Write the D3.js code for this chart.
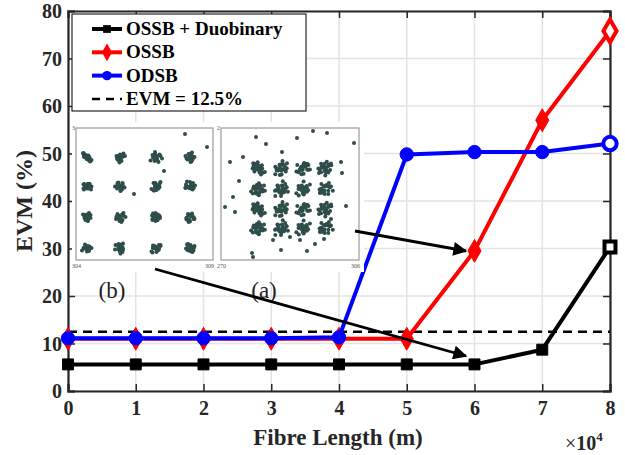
<!DOCTYPE html>
<html>
<head>
<meta charset="UTF-8">
<script src="https://d3js.org/d3.v7.min.js"></script>
<style>
  body { margin: 0; background: #fff; }
  svg text { font-family: "Liberation Serif", "Times New Roman", Times, serif; }
  .tick-lbl { font-size: 20px; font-weight: bold; fill: #262626; }
  .grid line { stroke: #e3e3e3; stroke-width: 1.5; }
</style>
</head>
<body>
<svg id="chart" width="625" height="455"></svg>
<script>
// data
var lengths = [0, 1, 2, 3, 4, 5, 6, 7, 8];
var duoEvm  = [5.6, 5.6, 5.6, 5.6, 5.6, 5.6, 5.6, 8.7, 30.3];
var ossbEvm = [11.0, 11.0, 11.0, 11.0, 11.0, 11.0, 29.5, 57.0, 75.8];
var odsbEvm = [11.1, 11.1, 11.1, 11.1, 11.3, 49.8, 50.3, 50.3, 52.1];
var threshold = 12.5;
var xTicks = [0, 1, 2, 3, 4, 5, 6, 7, 8];
var yTicks = [0, 10, 20, 30, 40, 50, 60, 70, 80];
var legendNames = ["OSSB + Duobinary", "OSSB", "ODSB", "EVM = 12.5%"];

// constellation insets (pixel-space decoration)
var gridB = { xs: [87, 120, 156, 190], ys: [157, 186, 217, 248] };
var gridA = { xs: [258, 281, 303, 325], ys: [168, 189, 209, 228] };
var tightOffs = [[0,0],[2,1],[-2,1],[1,-2],[-1,-2],[3,-1],[-3,0],[0,3],[2,3],[-2,-3],[4,1],[-4,2],[1,4],[3,-3],[-1,1],[1,1],[-3,-2],[2,-1],[0,-1],[-2,3]];
var looseOffs = [[0,0],[3,2],[-3,1],[2,-3],[-2,-4],[5,-1],[-5,0],[0,5],[4,4],[-4,-4],[7,2],[-7,3],[1,7],[6,-5],[-6,6],[2,-7],[-1,2],[3,-1],[-2,-1],[1,-4],[-4,3],[4,-2],[0,2],[-1,-2]];
var outliersA = [[256,137],[266,144],[327,133],[354,143],[230,162],[243,157],[341,162],[342,173],[239,181],[233,197],[225,207],[235,212],[346,206],[331,219],[290,237],[273,240],[300,240],[281,250],[307,251],[324,239],[315,244],[252,253],[253,257],[313,131],[297,138],[282,152]];
var outliersB = [[185,134],[207,147],[164,171],[134,194],[222,109]];

var svg = d3.select("#chart");
var m = { left: 68, right: 15, top: 11, bottom: 64 };

var x = d3.scaleLinear().domain([0, 8]).range([m.left, 610]);
var y = d3.scaleLinear().domain([0, 80]).range([391, m.top]);

// grid
var grid = svg.append("g").attr("class", "grid");
grid.selectAll(".gx").data(xTicks).enter().append("line")
  .attr("x1", d => x(d)).attr("x2", d => x(d)).attr("y1", y(0)).attr("y2", y(80));
grid.selectAll(".gy").data(yTicks).enter().append("line")
  .attr("x1", x(0)).attr("x2", x(8)).attr("y1", d => y(d)).attr("y2", d => y(d));

// axes (MATLAB-like box, ticks inside)
var axisCol = "#262626";
var bottomAx = svg.append("g").attr("transform", "translate(0," + y(0) + ")")
  .call(d3.axisBottom(x).tickValues(xTicks).tickSize(-7).tickPadding(10).tickFormat(d3.format("d")));
var leftAx = svg.append("g").attr("transform", "translate(" + x(0) + ",0)")
  .call(d3.axisLeft(y).tickValues(yTicks).tickSize(-7).tickPadding(6).tickFormat(d3.format("d")));
var topAx = svg.append("g").attr("transform", "translate(0," + y(80) + ")")
  .call(d3.axisTop(x).tickValues(xTicks).tickSize(-7).tickFormat(""));
var rightAx = svg.append("g").attr("transform", "translate(" + x(8) + ",0)")
  .call(d3.axisRight(y).tickValues(yTicks).tickSize(-7).tickFormat(""));
[bottomAx, leftAx, topAx, rightAx].forEach(function (g) {
  g.attr("font-family", null).attr("font-size", null);
  g.select(".domain").attr("stroke", axisCol).attr("stroke-width", 2.2);
  g.selectAll(".tick line").attr("stroke", axisCol).attr("stroke-width", 1.5);
  g.selectAll(".tick text").attr("class", "tick-lbl");
});
leftAx.selectAll(".tick text").attr("dy", "0.34em");

// threshold
svg.append("line")
  .attr("x1", x(0)).attr("x2", x(8)).attr("y1", y(threshold)).attr("y2", y(threshold))
  .attr("stroke", "#000").attr("stroke-width", 2.5).attr("stroke-dasharray", "9,6");

var line = d3.line().x((d, i) => x(lengths[i])).y(d => y(d));

function drawSeries(vals, color, shape, size) {
  svg.append("path").datum(vals).attr("d", line)
    .attr("fill", "none").attr("stroke", color).attr("stroke-width", 4)
    .attr("stroke-linejoin", "round");
  svg.append("g").selectAll("path").data(vals).enter().append("path")
    .attr("transform", (d, i) => "translate(" + x(lengths[i]) + "," + y(d) + ")")
    .attr("d", d3.symbol().type(shape).size(size))
    .attr("fill", (d, i) => i === vals.length - 1 ? "#fff" : color)
    .attr("stroke", color).attr("stroke-width", (d, i) => i === vals.length - 1 ? 4 : 1);
}
drawSeries(duoEvm, "#000", d3.symbolSquare, 120);
drawSeries(ossbEvm, "#ff0000", d3.symbolDiamond, 150);
drawSeries(odsbEvm, "#0000ff", d3.symbolCircle, 140);

// insets
var dotCol = "#2e4d4b";
function inset(x0, y0, w, h, lbls) {
  svg.append("rect").attr("x", x0).attr("y", y0).attr("width", w).attr("height", h)
    .attr("fill", "#fff").attr("stroke", "#9a9a9a").attr("stroke-width", 1.2);
  svg.append("text").attr("x", x0 - 4).attr("y", y0 + 2).attr("font-size", 6).attr("fill", "#555").text(lbls[0]);
  svg.append("text").attr("x", x0 - 4).attr("y", y0 + h + 8).attr("font-size", 6).attr("fill", "#555").text(lbls[1]);
  svg.append("text").attr("x", x0 + w - 8).attr("y", y0 + h + 8).attr("font-size", 6).attr("fill", "#555").text(lbls[2]);
}
svg.append("rect").attr("x", 72).attr("y", 122).attr("width", 292).attr("height", 150).attr("fill", "#fff");
inset(76, 128, 137, 132, ["3", "304", "309"]);
inset(221, 128, 138, 132, ["2", "270", "306"]);

var dotsB = [];
gridB.ys.forEach(function (cy, r) {
  gridB.xs.forEach(function (cx, c) {
    var k = r * 4 + c;
    tightOffs.forEach(function (o, j) {
      var oo = tightOffs[(j + k) % tightOffs.length];
      dotsB.push([cx + o[0] + (oo[1] * 0.5), cy + o[1] + (oo[0] * 0.5)]);
    });
  });
});
outliersB.forEach(p => dotsB.push(p));
svg.append("g").selectAll("circle").data(dotsB).enter().append("circle")
  .attr("cx", d => d[0]).attr("cy", d => d[1]).attr("r", 2).attr("fill", dotCol);

var dotsA = [];
gridA.ys.forEach(function (cy, r) {
  gridA.xs.forEach(function (cx, c) {
    var k = r * 4 + c;
    looseOffs.forEach(function (o, j) {
      var oo = looseOffs[(j + k * 3) % looseOffs.length];
      dotsA.push([cx + o[0] * 0.9 + oo[1] * 0.3, cy + o[1] * 0.9 + oo[0] * 0.3]);
    });
  });
});
outliersA.forEach(p => dotsA.push(p));
svg.append("g").selectAll("circle").data(dotsA).enter().append("circle")
  .attr("cx", d => d[0]).attr("cy", d => d[1]).attr("r", 2).attr("fill", dotCol);

svg.append("text").attr("x", 112).attr("y", 298).attr("text-anchor", "middle")
  .attr("font-size", 23).attr("fill", "#222").text("(b)");
svg.append("text").attr("x", 264).attr("y", 298).attr("text-anchor", "middle")
  .attr("font-size", 23).attr("fill", "#222").text("(a)");

// arrows
var defs = svg.append("defs");
defs.append("marker").attr("id", "arr").attr("viewBox", "0 0 10 10")
  .attr("refX", 9).attr("refY", 5).attr("markerWidth", 7).attr("markerHeight", 5)
  .attr("markerUnits", "strokeWidth").attr("orient", "auto")
  .append("path").attr("d", "M0,0 L10,5 L0,10 Z").attr("fill", "#000");
svg.append("line").attr("x1", 355).attr("y1", 231).attr("x2", 466).attr("y2", 251)
  .attr("stroke", "#000").attr("stroke-width", 2.8).attr("marker-end", "url(#arr)");
svg.append("line").attr("x1", 155).attr("y1", 269).attr("x2", 466).attr("y2", 356)
  .attr("stroke", "#000").attr("stroke-width", 2.8).attr("marker-end", "url(#arr)");

// legend
var lg = svg.append("g");
lg.append("rect").attr("x", 72).attr("y", 14).attr("width", 234).attr("height", 97)
  .attr("fill", "#fff").attr("stroke", "#262626").attr("stroke-width", 1.2);
var legendStyle = [
  { c: "#000", s: d3.symbolSquare, z: 60, dash: null },
  { c: "#ff0000", s: d3.symbolDiamond, z: 90, dash: null },
  { c: "#0000ff", s: d3.symbolCircle, z: 70, dash: null },
  { c: "#000", s: null, z: 0, dash: "8,6" }
];
legendNames.forEach(function (name, i) {
  var ly = 29 + i * 23.3;
  var st = legendStyle[i];
  lg.append("line").attr("x1", 92).attr("x2", 122).attr("y1", ly).attr("y2", ly)
    .attr("stroke", st.c).attr("stroke-width", st.dash ? 2.5 : 4)
    .attr("stroke-dasharray", st.dash);
  if (st.s) lg.append("path").attr("transform", "translate(107," + ly + ")")
    .attr("d", d3.symbol().type(st.s).size(st.z)).attr("fill", st.c);
  lg.append("text").attr("x", 126).attr("y", ly + 6).attr("font-size", 19)
    .attr("font-weight", "bold").attr("fill", "#000").text(name);
});

// axis titles
svg.append("text").attr("transform", "translate(32," + y(40) + ") rotate(-90)")
  .attr("text-anchor", "middle").attr("font-size", 24).attr("font-weight", "bold")
  .attr("fill", "#262626").text("EVM (%)");
svg.append("text").attr("x", 338).attr("y", 445).attr("text-anchor", "middle")
  .attr("font-size", 23).attr("font-weight", "bold").attr("fill", "#262626").text("Fibre Length (m)");
var mult = svg.append("text").attr("x", 565).attr("y", 450).attr("font-size", 20).attr("fill", "#262626");
mult.append("tspan").text("×");
mult.append("tspan").attr("font-weight", "bold").text("10");
mult.append("tspan").attr("dy", -9).attr("font-size", 13).attr("font-weight", "bold").text("4");
</script>
</body>
</html>
